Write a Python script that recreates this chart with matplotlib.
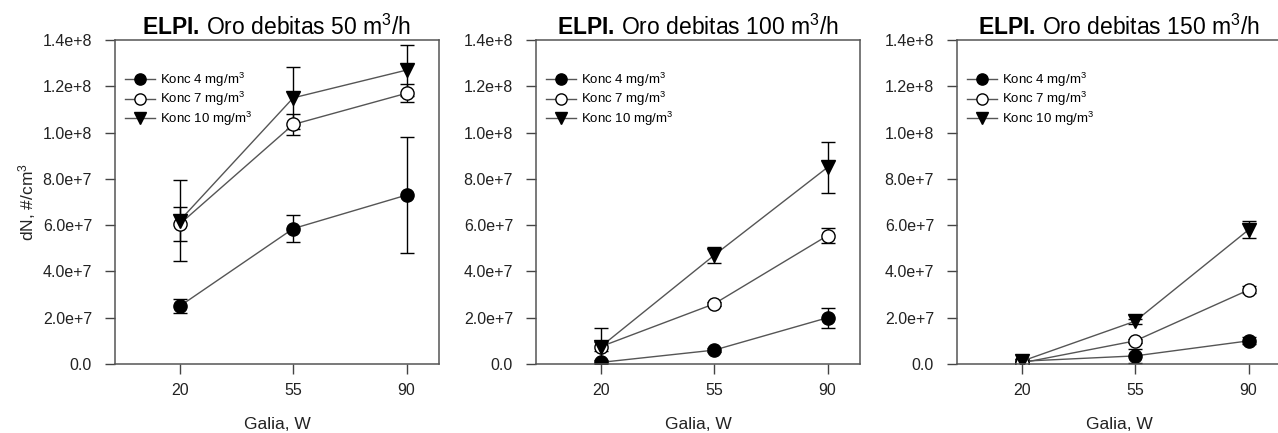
import numpy as np
import matplotlib
matplotlib.use("Agg")
import matplotlib.pyplot as plt
from matplotlib.lines import Line2D

plt.rcParams["font.family"] = ["Liberation Sans", "DejaVu Sans"]
plt.rcParams["mathtext.fontset"] = "custom"
plt.rcParams["mathtext.rm"] = "Liberation Sans"
plt.rcParams["mathtext.it"] = "Liberation Sans:italic"
plt.rcParams["mathtext.bf"] = "Liberation Sans:bold"

# ── Data (values in #/cm3) ────────────────────────────────────────────────
power = [20, 55, 90]
flows = [50, 100, 150]
labels = ["Konc 4 mg/m$^3$", "Konc 7 mg/m$^3$", "Konc 10 mg/m$^3$"]
ytick_labels = ["0.0", "2.0e+7", "4.0e+7", "6.0e+7", "8.0e+7", "1.0e+8", "1.2e+8", "1.4e+8"]

# flow 50 m3/h
k4_50  = [2.5e7, 5.85e7, 7.3e7];   k4_50_err  = [0.3e7, 0.57e7, 2.5e7]
k7_50  = [6.05e7, 10.35e7, 11.7e7]; k7_50_err  = [0.75e7, 0.46e7, 0.4e7]
k10_50 = [6.2e7, 11.5e7, 12.7e7];  k10_50_err = [1.75e7, 1.35e7, 1.1e7]
# flow 100 m3/h
k4_100  = [0.07e7, 0.6e7, 2.0e7];  k4_100_err  = [0.1e7, 0.1e7, 0.43e7]
k7_100  = [0.75e7, 2.6e7, 5.55e7]; k7_100_err  = [0.2e7, 0.1e7, 0.34e7]
k10_100 = [0.75e7, 4.7e7, 8.5e7];  k10_100_err = [0.8e7, 0.35e7, 1.1e7]
# flow 150 m3/h
k4_150  = [0.12e7, 0.35e7, 1.0e7];  k4_150_err  = [0.1e7, 0.3e7, 0.15e7]
k7_150  = [0.05e7, 1.0e7, 3.2e7];   k7_150_err  = [0.05e7, 0.1e7, 0.15e7]
k10_150 = [0.12e7, 1.85e7, 5.8e7];  k10_150_err = [0.1e7, 0.1e7, 0.37e7]

panels = [
    [(k4_50, k4_50_err), (k7_50, k7_50_err), (k10_50, k10_50_err)],
    [(k4_100, k4_100_err), (k7_100, k7_100_err), (k10_100, k10_100_err)],
    [(k4_150, k4_150_err), (k7_150, k7_150_err), (k10_150, k10_150_err)],
]

styles = [
    dict(marker="o", mfc="black", mec="black"),
    dict(marker="o", mfc="white", mec="black"),
    dict(marker="v", mfc="black", mec="black"),
]

W, H = 1278, 433
fig = plt.figure(figsize=(W / 100, H / 100), dpi=100)

lefts = [115, 536, 957]
axw, axh = 324, 324
bottom = 433 - 364
txt = "#222222"

for i, (left, flow, series) in enumerate(zip(lefts, flows, panels)):
    ax = fig.add_axes([left / W, bottom / H, axw / W, axh / H])
    for (vals, err), st in zip(series, styles):
        ax.errorbar(power, vals, yerr=err, color="#555555", lw=1.0,
                    ecolor="black", elinewidth=1.0, capsize=5, capthick=1.0,
                    markersize=9.5, markeredgewidth=1.0, **st)
    ax.set_xlim(0, 100)
    ax.set_ylim(0, 1.4e8)
    ax.set_xticks(power)
    ax.set_yticks(np.linspace(0, 1.4e8, 8))
    ax.set_yticklabels(ytick_labels)
    ax.tick_params(direction="out", length=7.5, width=1.0, labelsize=11.5,
                   colors="#444444", labelcolor=txt)
    ax.tick_params(axis="y", pad=9)
    ax.tick_params(axis="x", pad=6)
    for sp in ax.spines.values():
        sp.set_color("#555555")
        sp.set_linewidth(1.1)
    ax.set_xlabel("Galia, W", fontsize=12.5, color=txt, labelpad=14)
    if i == 0:
        ax.set_ylabel("dN, #/cm$^3$", fontsize=12.5, color=txt, labelpad=3)
    ax.set_title(r"$\mathbf{ELPI.}\,\mathrm{Oro\ debitas\ " + f"{flow}" + r"\ m^3/h}$",
                 fontsize=16.5, pad=4)
    handles = [Line2D([], [], color="#555555", lw=1.0, markersize=9.5,
                      markeredgewidth=1.0, **st) for st in styles]
    ax.legend(handles, labels, loc="upper left", bbox_to_anchor=(0.03, 0.905),
              frameon=False, fontsize=9.5, markerscale=0.85, handlelength=2.3,
              handletextpad=0.4, labelspacing=0.1, borderpad=0,
              borderaxespad=0)

fig.savefig("out.png", dpi=100)
